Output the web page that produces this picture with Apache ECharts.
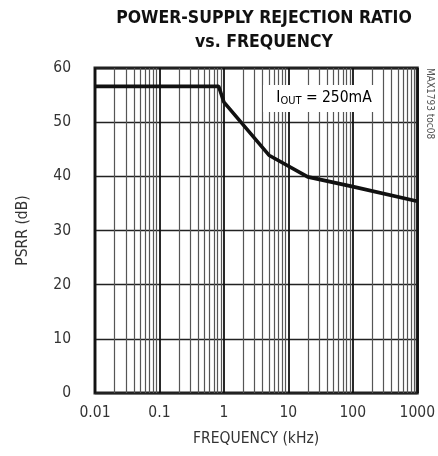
<!DOCTYPE html>
<html>
<head>
<meta charset="utf-8">
<script src="https://cdn.jsdelivr.net/npm/echarts@6/dist/echarts.min.js"></script>
<style>
  html, body { margin: 0; padding: 0; background: #fff; }
  #chart { width: 438px; height: 456px; }
</style>
</head>
<body>
<div id="chart"></div>
<script>
// PSRR curve
var freqKHz = [0.01, 0.1, 0.83, 1.0, 5, 20, 100, 1000]
var psrrDb = [56.6, 56.6, 56.6, 53.7, 43.9, 39.9, 38.1, 35.4]
var decades = [0.01, 0.1, 1, 10, 100]
var minorSteps = [2, 3, 4, 5, 6, 7, 8, 9]

var FONT = '"Liberation Sans Narrow", "DejaVu Sans Condensed", sans-serif'

// minor vertical grid lines (2..9 in each decade)
var minorLines = []
decades.forEach(function (d) {
  minorSteps.forEach(function (m) {
    minorLines.push({ xAxis: +(d * m).toPrecision(3) })
  })
})

var chart = echarts.init(document.getElementById('chart'))
chart.setOption({
  animation: false,
  title: {
    text: 'POWER-SUPPLY REJECTION RATIO\nvs. FREQUENCY',
    left: 259,
    top: 1,
    textAlign: 'center',
    textStyle: {
      fontFamily: '"DejaVu Sans Condensed", "Liberation Sans Narrow", sans-serif',
      fontWeight: 'bold',
      fontSize: 17.5,
      lineHeight: 24,
      color: '#111'
    }
  },
  grid: {
    left: 95,
    right: 16,
    top: 68,
    bottom: 63,
    show: true,
    borderColor: '#222',
    borderWidth: 3,
    backgroundColor: 'transparent'
  },
  xAxis: {
    type: 'log',
    logBase: 10,
    min: 0.01,
    max: 1000,
    name: 'FREQUENCY (kHz)',
    nameLocation: 'middle',
    nameGap: 38,
    nameTextStyle: { fontFamily: FONT, fontSize: 15.5, color: '#333' },
    axisLine: { show: false },
    axisTick: { show: false },
    axisLabel: {
      fontFamily: FONT,
      fontSize: 15.5,
      color: '#333',
      margin: 12,
      formatter: function (v) { return String(+v.toPrecision(3)) }
    },
    splitLine: { show: true, lineStyle: { color: '#111', width: 1.8 } }
  },
  yAxis: {
    type: 'value',
    min: 0,
    max: 60,
    interval: 10,
    name: 'PSRR (dB)',
    nameLocation: 'middle',
    nameGap: 64,
    nameTextStyle: { fontFamily: FONT, fontSize: 15.5, color: '#333' },
    axisLine: { show: false },
    axisTick: { show: false },
    axisLabel: { fontFamily: FONT, fontSize: 15.5, color: '#333', margin: 24 },
    splitLine: { show: true, lineStyle: { color: '#222', width: 1.4 } }
  },
  series: [
    {
      type: 'line',
      data: [],
      silent: true,
      markLine: {
        silent: true,
        symbol: 'none',
        animation: false,
        label: { show: false },
        lineStyle: { color: '#555', width: 1.2, type: 'solid' },
        data: minorLines
      },
      z: 1
    },
    {
      type: 'line',
      data: freqKHz.map(function (f, i) { return [f, psrrDb[i]] }),
      showSymbol: false,
      symbol: 'none',
      lineStyle: { color: '#111', width: 3.6 },
      z: 5
    }
  ],
  graphic: [
    {
      type: 'rect',
      z: 100,
      shape: { x: 263, y: 85, width: 112, height: 27 },
      style: { fill: '#fff' }
    },
    {
      type: 'text',
      z: 101,
      x: 324,
      y: 98,
      style: {
        text: '{a|I}{b|OUT}{a| = 250mA}',
        align: 'center',
        verticalAlign: 'middle',
        rich: {
          a: { fontFamily: FONT, fontSize: 15.5, color: '#222', lineHeight: 20 },
          b: { fontFamily: FONT, fontSize: 11, color: '#222', lineHeight: 20, padding: [7, 0, 0, 0] }
        }
      }
    },
    {
      type: 'text',
      z: 101,
      x: 430,
      y: 68,
      rotation: -Math.PI / 2,
      style: {
        text: 'MAX1793 toc08',
        fontFamily: FONT,
        fontSize: 10,
        fill: '#555',
        align: 'left',
        verticalAlign: 'middle'
      }
    }
  ]
})
</script>
</body>
</html>
